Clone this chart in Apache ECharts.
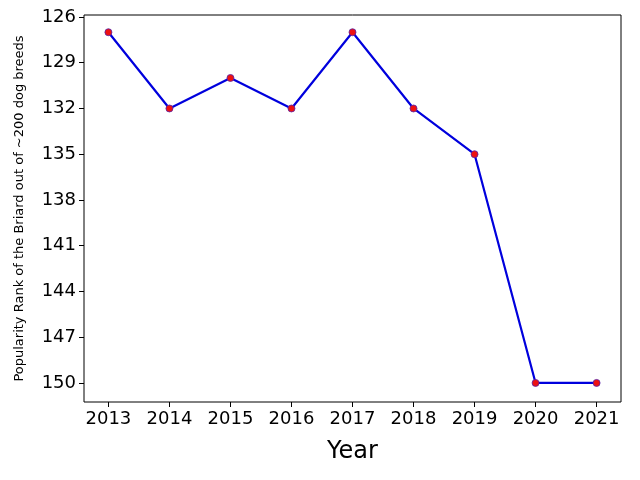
<!DOCTYPE html>
<html><head><meta charset="utf-8">
<script src="https://cdn.jsdelivr.net/npm/echarts@6/dist/echarts.min.js"></script>
<style>html,body{margin:0;padding:0;background:#fff}#c{width:640px;height:480px}</style>
</head><body><div id="c"></div>
<script>
const years = [2013,2014,2015,2016,2017,2018,2019,2020,2021];
const ranks = [127,132,130,132,127,132,135,150,150];
const yTicks = [126,129,132,135,138,141,144,147,150];
const chart = echarts.init(document.getElementById('c'));
chart.setOption({
  animation:false,
  grid:{left:84,right:19,top:15,bottom:78,show:true,borderColor:'#000',borderWidth:1},
  xAxis:{type:'value',min:2012.6,max:2021.4,
    name:'Year',nameLocation:'middle',nameGap:38,nameTextStyle:{fontSize:24,color:'#000',fontFamily:'DejaVu Sans'},
    axisLine:{show:false},splitLine:{show:false},
    axisTick:{show:true,customValues:years,length:5,lineStyle:{color:'#000'}},
    axisLabel:{customValues:years,fontSize:18,color:'#000',fontFamily:'DejaVu Sans',margin:8,formatter:v=>String(v)}},
  yAxis:{type:'value',inverse:true,min:125.87,max:151.25,
    name:'Popularity Rank of the Briard out of ~200 dog breeds',nameLocation:'middle',nameGap:58,
    nameTextStyle:{fontSize:13,color:'#000',fontFamily:'DejaVu Sans'},
    axisLine:{show:false},splitLine:{show:false},
    axisTick:{show:true,customValues:yTicks,length:5,lineStyle:{color:'#000'}},
    axisLabel:{customValues:yTicks,fontSize:18,color:'#000',fontFamily:'DejaVu Sans',margin:8}},
  series:[{type:'line',data:years.map((y,i)=>[y,ranks[i]]),
    lineStyle:{color:'#0000dd',width:2.2},
    symbol:'circle',symbolSize:7,
    itemStyle:{color:'#ee1111',borderColor:'#5522aa',borderWidth:0.8}}]
});
</script></body></html>
